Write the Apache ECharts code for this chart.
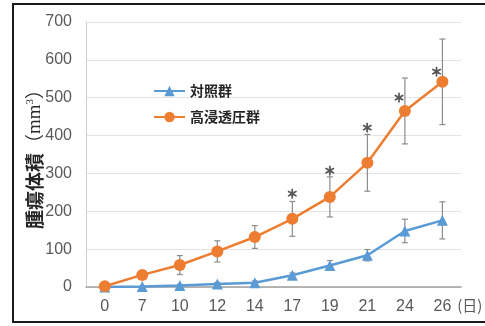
<!DOCTYPE html>
<html>
<head>
<meta charset="utf-8">
<script src="https://cdn.jsdelivr.net/npm/echarts@6/dist/echarts.min.js"></script>
<style>
  html, body { margin: 0; padding: 0; background: #fff; }
  #chart { width: 485px; height: 326px; }
</style>
</head>
<body>
<div id="chart"></div>
<script>
// days after inoculation
const days = ['0', '7', '10', '12', '14', '17', '19', '21', '24', '26'];
// tumour volume (mm3), mean and error bar half-length
const controlMean = [0, 1, 4, 8, 11, 31, 57, 84, 148, 176];
const controlErr = [0, 2, 3, 4, 5, 6, 13, 15, 31, 49];
const hyperMean = [2, 32, 58, 94, 132, 180, 238, 328, 465, 542];
const hyperErr = [0, 10, 25, 28, 30, 46, 53, 75, 87, 113];
// significance marks (*) : day index and height
const starDays = [5, 6, 7, 8, 9];
const starHeights = [245, 306, 419, 499, 568];
const yTicks = [0, 100, 200, 300, 400, 500, 600, 700];

const BLUE = '#5B9BD5';
const ORANGE = '#ED7D31';
const chart = echarts.init(document.getElementById('chart'));

function errBars(mean, err) {
    return mean.map((m, i) => [i, m - err[i], m + err[i]]);
}

function renderErr(params, api) {
    const lo = api.coord([api.value(0), api.value(1)]);
    const hi = api.coord([api.value(0), api.value(2)]);
    if (hi[1] >= lo[1] - 0.5) return null;
    const w = 3;
    const style = {stroke: '#8c8c8c', lineWidth: 1.2};
    return {
        type: 'group',
        children: [
            {type: 'line', shape: {x1: lo[0], y1: lo[1], x2: hi[0], y2: hi[1]}, style},
            {type: 'line', shape: {x1: hi[0] - w, y1: hi[1], x2: hi[0] + w, y2: hi[1]}, style},
            {type: 'line', shape: {x1: lo[0] - w, y1: lo[1], x2: lo[0] + w, y2: lo[1]}, style}
        ]
    };
}

const option = {
    animation: false,
    textStyle: {fontFamily: 'Liberation Sans Narrow, Liberation Sans, sans-serif'},
    grid: {left: 86, right: 17, top: 22, bottom: 39},
    legend: {
        orient: 'vertical',
        left: 148,
        top: 79,
        itemWidth: 31,
        itemHeight: 13,
        itemGap: 12,
        data: ['対照群', '高浸透圧群'],
        textStyle: {fontFamily: 'Noto Sans CJK JP', fontWeight: 'bold', fontSize: 14, color: '#262626'}
    },
    xAxis: {
        type: 'category',
        data: days,
        name: '(日)',
        nameLocation: 'end',
        nameGap: -12,
        nameTextStyle: {
            fontFamily: 'Noto Sans CJK JP', fontSize: 15, color: '#595959',
            verticalAlign: 'top', align: 'left', padding: [11, 0, 0, 0]
        },
        axisLine: {lineStyle: {color: '#a0a0a0', width: 1.5}},
        axisTick: {show: false},
        axisLabel: {fontSize: 16, color: '#595959', margin: 12}
    },
    yAxis: {
        type: 'value',
        min: 0,
        max: 700,
        interval: 100,
        name: '{a|腫瘍体積}{b|（}{c|mm}{d|3}{b|）}',
        nameLocation: 'middle',
        nameGap: 41,
        nameMoveOverlap: false,
        nameTextStyle: {
            rich: {
                a: {fontFamily: 'Noto Sans CJK JP', fontWeight: 'bold', fontSize: 19, color: '#262626'},
                b: {fontFamily: 'Noto Sans CJK JP', fontSize: 19, color: '#262626'},
                c: {fontFamily: 'Liberation Serif', fontSize: 19, color: '#262626'},
                d: {fontFamily: 'Liberation Serif', fontSize: 11, color: '#262626', verticalAlign: 'top', padding: [0, 0, 9, 0]}
            }
        },
        axisLine: {show: true, lineStyle: {color: '#d0d0d0', width: 1}},
        axisTick: {show: false},
        axisLabel: {
            fontSize: 16, color: '#595959', margin: 14,
            formatter: v => yTicks.includes(v) ? String(v) : ''
        },
        splitLine: {lineStyle: {color: '#e3e3e3', width: 1}}
    },
    series: [
        {
            type: 'custom',
            renderItem: renderErr,
            data: errBars(hyperMean, hyperErr),
            z: 1,
            silent: true
        },
        {
            type: 'custom',
            renderItem: renderErr,
            data: errBars(controlMean, controlErr),
            z: 1,
            silent: true
        },
        {
            name: '対照群',
            type: 'line',
            data: controlMean,
            symbol: 'triangle',
            symbolSize: 11,
            z: 3,
            lineStyle: {color: BLUE, width: 2.5},
            itemStyle: {color: BLUE}
        },
        {
            name: '高浸透圧群',
            type: 'line',
            data: hyperMean,
            symbol: 'circle',
            symbolSize: 12,
            z: 4,
            lineStyle: {color: ORANGE, width: 2.5},
            itemStyle: {color: ORANGE}
        },
        {
            type: 'scatter',
            symbolSize: 1,
            itemStyle: {color: 'transparent'},
            silent: true,
            data: starDays.map((d, i) => ({
                value: [d, starHeights[i]],
                label: {offset: [d >= 8 ? -6 : 0, 0]}
            })),
            label: {
                show: true,
                position: 'inside',
                formatter: '＊',
                fontFamily: 'Noto Sans CJK JP',
                fontSize: 12,
                fontWeight: 'bold',
                color: '#333',
                textBorderColor: '#333',
                textBorderWidth: 0.6
            },
            z: 5
        }
    ],
    graphic: [
        {
            type: 'rect',
            shape: {x: 13, y: 4, width: 480, height: 318},
            style: {fill: 'none', stroke: '#1a1a1a', lineWidth: 2},
            silent: true,
            z: 100
        }
    ]
};

chart.setOption(option);
</script>
</body>
</html>
